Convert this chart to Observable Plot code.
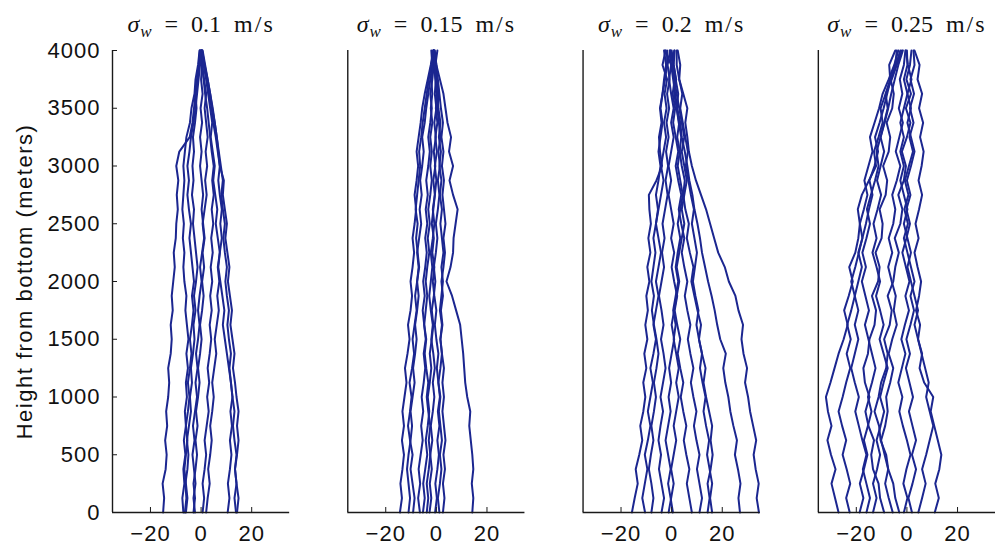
<!DOCTYPE html>
<html><head><meta charset="utf-8">
<script src="https://cdn.jsdelivr.net/npm/d3@7"></script>
<script src="https://cdn.jsdelivr.net/npm/@observablehq/plot@0.6"></script>
<style>
html,body{margin:0;padding:0;background:#fff;}
#chart svg{display:block;}
g[aria-label="x-axis tick label"] text, g[aria-label="y-axis tick label"] text {letter-spacing:1px;}
</style></head><body><div id="chart"></div>
<script>
// sample heights (m), bottom to top
const heights = [0,125,250,375,500,625,750,875,1000,1125,1250,1375,1500,1625,1750,1875,2000,2125,2250,2375,2500,2625,2750,2875,3000,3125,3250,3375,3500,3625,3750,3875,4000];
const sigmas = ["0.1","0.15","0.2","0.25"];
const xTicks = [-20, 0, 20];
const yTicks = [0,500,1000,1500,2000,2500,3000,3500,4000];
const yLabel = "Height from bottom (meters)";

// horizontal displacement (m) of each trajectory at the heights above
const panel1 = [
  [-15,-14.6,-15.2,-14,-13.6,-14.2,-13.4,-13.8,-13,-12.6,-13,-12,-11.6,-12,-11.2,-11.6,-11,-10.4,-10.8,-10,-9.8,-9.2,-9.6,-9,-9.8,-8.6,-4.5,-3.4,-2.8,-2.2,-1.6,-0.8,-0.5],
  [-7,-7.4,-6.6,-7,-6.2,-6.8,-6,-6.4,-5.6,-6,-5.2,-5.8,-5,-5.6,-6.2,-5.8,-6.6,-7,-6.6,-7.2,-6.8,-7.4,-7,-6.6,-7,-6.4,-5.8,-4.4,-3.8,-2.6,-2.2,-1.2,-0.6],
  [-6.4,-5.8,-6.2,-5.4,-5,-5.6,-4.8,-4,-4.4,-3.6,-4,-3.2,-2.6,-3,-2.2,-2.8,-2,-1.4,-2,-2.6,-3.2,-2.8,-3.6,-3,-3.4,-2.8,-3.2,-2.4,-1.8,-2.2,-1.4,-0.8,-0.4],
  [-3,-2.4,-3,-2.2,-1.6,-2.2,-1.4,-2,-1.2,-0.6,-1.2,-0.4,0.2,-0.4,0.4,1,0.4,1.2,0.6,1.4,0.8,0.2,0.8,0.2,-0.4,0.2,-0.4,0.4,-0.2,0.6,0,0.4,0],
  [-2.4,-3,-2.2,-2.8,-3.4,-2.6,-3.2,-2.4,-1.6,-2.2,-1.4,-2,-1.2,-0.6,-1.2,-0.6,0.2,-0.4,0.4,1.2,0.6,1.4,2.2,1.6,2.4,1.8,2.6,2,1.4,2,1.2,0.4,0.2],
  [0.6,1.2,0.6,1.4,2,1.4,2.2,3,2.4,3.2,2.6,3.4,4,3.4,4.2,3.6,4.4,3.8,4.6,4,4.8,4.2,5,4.4,5,4.2,3.6,3,2.4,1.6,1,0.4,0.2],
  [2,2.6,3.4,2.8,3.6,4.2,3.6,4.4,5,4.4,5.2,6,5.4,6.2,7,6.4,7.2,6.6,7.4,8.2,7.6,8.2,7.4,6.8,7.4,6.6,5.8,4.8,4.2,3.2,2.2,1.2,0.4],
  [10.5,11.2,10.6,11.4,12,11.4,12.2,11.6,12.4,11.8,11.2,11.8,11,10.4,11,10.2,9.6,10.2,9.4,8.8,9.4,8.6,8,8.6,7.8,7,6.2,5.4,4.6,3.6,2.6,1.4,0.4],
  [13.8,13.2,14,13.4,14.2,14.8,14.2,14.8,14,13.4,12.6,13.2,12.4,11.6,12.2,11.4,10.6,11.2,10.4,9.6,10.2,9.4,8.6,9,7.4,6.8,6.2,5.4,4.4,3.6,2.6,1.6,0.6],
  [14.2,14.8,14,13.4,14,13.2,12.6,13.2,12.4,11.8,11,10.2,9.4,8.6,9.2,8.4,7.6,6.8,7.4,6.6,5.8,6.4,5.6,4.8,5.4,4.6,3.8,4.4,3.6,2.8,2,1,0.2],
  [-6,-5.4,-6,-6.6,-6,-5.4,-6,-5.2,-4.6,-5.2,-4.4,-3.8,-4.4,-3.6,-3,-3.6,-2.8,-3.4,-4,-4.6,-4,-4.8,-5.4,-4.8,-5.4,-4.6,-4,-3,-2.2,-1.6,-1,-0.4,-0.2]
];
const panel2 = [
  [14.2,14.6,14,14.6,14.2,13.6,13,13.4,12.2,11.4,11,10.6,10,9.4,7.8,6.2,4,5.6,6.6,6.8,7.6,8.4,6.6,5.2,6.6,5,5.8,4.4,3.6,2.8,1.4,0,-1],
  [-14.4,-13.6,-14.2,-13.4,-12.8,-13.6,-12.8,-13.4,-12.6,-11.8,-12.4,-11.4,-10.6,-11.2,-10.2,-9.6,-10.2,-9.4,-8.8,-9.4,-8.6,-8,-8.6,-7.8,-7.2,-7.8,-7,-6.2,-5.6,-4.6,-3.4,-2.2,-1.2],
  [-9.2,-8.6,-9.4,-10.2,-9.4,-10.4,-11.2,-10.4,-9.8,-10.6,-9.6,-8.8,-9.4,-8.6,-7.8,-8.4,-7.6,-7,-7.6,-6.8,-6,-6.6,-5.8,-6.4,-5.6,-5,-5.6,-4.6,-4,-3.2,-2.4,-1.6,-2],
  [-6.5,-7.2,-6.4,-7,-6.2,-5.4,-6,-5.2,-5.8,-5,-4.4,-5,-4.2,-4.8,-5.4,-4.6,-5.2,-4.4,-3.8,-4.4,-3.6,-4.2,-3.4,-4,-3.2,-2.6,-3.2,-2.4,-1.8,-2.4,-1.6,-1,-0.8],
  [-5.3,-4.6,-5.2,-4.4,-3.6,-4.2,-3.4,-2.8,-3.4,-2.6,-2,-2.6,-1.8,-1.2,-1.8,-1,-0.4,-1,-0.2,0.4,-0.2,0.6,1.2,0.6,1.4,0.8,1.6,1,0.4,1,0.2,-0.4,0.4],
  [-2.7,-2,-2.6,-1.8,-2.4,-3,-2.4,-3.2,-3.8,-3.2,-4,-4.6,-4,-4.8,-4.2,-3.6,-4.2,-3.6,-2.8,-3.4,-2.6,-3.2,-2.4,-1.8,-2.4,-1.8,-2.4,-1.6,-2.2,-1.6,-2,-1.4,-1.2],
  [-0.5,0.2,-0.4,0.4,1,0.4,1.2,0.6,1.4,0.8,1.6,2.2,1.6,2.4,1.8,2.6,2,2.8,3.4,2.8,3.6,3,2.4,3,2.2,2.8,2,2.6,1.8,1.2,0.6,0,-0.6],
  [1.2,0.6,1.4,2,1.4,2.2,1.6,1,1.6,0.8,0.2,0.8,0,-0.6,0,-0.8,-1.4,-0.8,-1.6,-1,-1.8,-1.2,-0.6,-1.2,-0.4,-1,-0.2,-0.8,0,-0.6,-0.2,-0.8,-1],
  [2.6,3.2,2.6,3.4,2.8,3.6,3,2.4,3,2.4,3,2.2,1.6,2.2,1.4,2,2.6,2,2.8,2.2,1.6,2.2,1.4,2,1.2,1.8,1,1.6,0.8,0.2,-0.4,-0.8,-1.2],
  [-11,-10.4,-11,-11.6,-11,-10.2,-9.6,-10.2,-9.4,-8.6,-9.2,-8.4,-7.8,-8.4,-7.6,-7,-7.6,-6.8,-7.4,-8,-7.4,-8.2,-7.6,-7,-6.4,-6.8,-6,-5.4,-4.6,-3.8,-3,-2,-1.2],
  [-3.8,-3.2,-3.8,-3,-2.4,-1.6,-2.2,-1.4,-0.8,-1.4,-0.6,-1.2,-2,-1.4,-2.2,-2.8,-2.2,-1.6,-2.2,-1.4,-0.8,-1.4,-0.6,0,-0.6,0.2,-0.4,0.4,-0.2,0.4,-0.2,-0.6,-1]
];
const panel3 = [
  [34.5,33.6,34.4,33.2,32.4,33.4,32.2,31,30.2,29,29.8,28.4,27.6,28.2,26.4,25.2,22.6,21,18.4,16.8,15.2,13.6,11.6,9.6,8,6.8,6.2,5.4,6.2,4.6,3,3.4,2.4],
  [27,26.4,27.2,26.2,25,25.8,24.4,23.2,22.4,21.2,20.4,21.4,19.2,18,17,15.8,14.4,13.2,12,11.2,10.2,9,8.2,7,6.2,5.2,4,3.4,2.2,1.4,0.6,-0.2,-2.6],
  [14.2,15,14.2,15.4,16.2,15.4,16,14.8,13.6,12.6,13.4,12,10.8,11.6,10.2,9,7.8,8.6,7.2,6,6.8,5.4,4.6,5.2,4,3.2,3.8,2.8,2,2.6,1.6,0.8,1.2],
  [16,15.2,16,15,14,14.8,13.6,12.6,13.4,12.2,11.2,12,10.8,9.8,10.6,9.4,8.4,9.2,10,9,8,8.8,7.6,6.6,5.6,6.4,5.4,4.4,3.4,4.2,3,2,2],
  [-15.7,-14.6,-13.4,-14.2,-12.8,-11.6,-12.4,-11.2,-10.4,-11.2,-10,-10.8,-9.6,-10.4,-9.4,-10,-8.8,-9.6,-8.4,-9.2,-8.2,-8.8,-9,-6,-3.8,-4.6,-5,-4,-4.6,-3.6,-3,-2.2,-3],
  [-8,-7.2,-8,-9,-8.2,-7.2,-8,-7,-6.2,-7,-6,-5.2,-6,-7,-7.8,-7,-8,-7.2,-6.4,-7.2,-6.2,-5.4,-6.2,-5.2,-4.4,-5.2,-4.4,-3.6,-4.4,-3.6,-2.6,-1.8,-1.8],
  [-4,-3,-4,-5,-4.2,-5.2,-4.4,-3.4,-4.4,-3.4,-2.4,-3.2,-4.2,-3.2,-4,-5,-4,-3,-3.8,-2.8,-3.6,-2.6,-1.6,-2.4,-1.4,-2.2,-1.2,-2,-1,-1.8,-0.8,-1.6,-0.6],
  [-1.2,-0.2,0.8,-0.2,0.8,1.8,0.8,1.8,2.8,1.8,2.8,1.8,0.8,1.6,0.6,1.6,2.6,1.6,2.4,3.4,2.4,3.4,4.4,3.4,2.4,3.2,2.2,3,2,1,1.8,0.8,0],
  [0.5,-0.4,-1.4,-0.4,-1.4,-2.4,-1.4,-0.4,-1.2,-0.2,-1,0,1,0,1,2,3,2,3,4,5,4,5,6,5,4,5,4,3,2,1,0.4,-0.4],
  [8,7,6,7,5.8,4.8,5.8,4.6,3.6,4.6,3.4,2.4,3.4,2.2,1.2,2.2,1,0,1,-0.2,0.8,-0.2,-1.2,-0.2,-1.2,-0.2,0.8,-0.2,0.8,-0.2,-1,-0.2,-0.8],
  [11,12,11,10,11,9.8,8.8,9.8,8.6,7.6,8.6,7.4,6.4,7.4,6.2,5.2,6.2,5,4,5,3.8,2.8,3.8,2.6,1.6,2.6,1.6,0.6,1.4,0.4,1.2,0.4,1],
  [-10.5,-11.6,-10.6,-9.6,-10.6,-9.4,-8.4,-9.4,-8.4,-7.4,-8.4,-7.2,-6.2,-7.2,-6.2,-5.2,-6.2,-5.2,-4.2,-5.2,-6.2,-5.2,-4.2,-3.2,-4.2,-3.2,-2.2,-3,-2,-2.8,-1.8,-3.6,-2.4]
];
const panel4 = [
  [-27,-28.4,-29.8,-28.2,-30,-31.4,-29.8,-31.2,-32,-30.2,-28.6,-27,-25,-23.4,-24.8,-23,-21.4,-22.8,-20.4,-19.2,-18.6,-19.4,-17.8,-15,-12.2,-13,-11.2,-9.6,-10.4,-8.4,-6.6,-7,-4.6],
  [-22.6,-24,-22.4,-23.8,-25.4,-24,-25.6,-27,-25.4,-24,-22.4,-23.8,-22.2,-23.6,-22,-20.6,-22,-20.4,-19,-17.6,-18.6,-17,-15.6,-16.8,-15.2,-13.6,-14.6,-12.8,-11,-9.6,-7.2,-5,-3.4],
  [-18.7,-17.2,-18.6,-17,-15.6,-17,-15.4,-14,-15.4,-13.8,-12.4,-13.8,-15.2,-16.6,-15,-16.4,-17.8,-16.2,-17.6,-16,-14.6,-15.8,-14.2,-12.6,-11.2,-12,-10.4,-9,-7.6,-8.4,-6,-4,-2],
  [-13.4,-12,-13.4,-11.8,-10.6,-12,-10.4,-9,-10.6,-9.2,-7.6,-9.2,-10.8,-9.2,-10.6,-12.2,-10.6,-12,-13.6,-12,-13.2,-11.6,-10.2,-11.8,-10.4,-9,-10.4,-8.8,-7.4,-6.2,-4.8,-3.4,-1.6],
  [-9,-10.6,-11.2,-13.4,-14.1,-13,-15.2,-16.4,-14.8,-16.6,-17.2,-15.4,-14.8,-12.8,-12.2,-13.8,-11.4,-10.8,-12.4,-10,-9.6,-10.8,-8.4,-7.8,-9.4,-7.2,-6.6,-8,-5.8,-5.2,-6.4,-4.4,-2.6],
  [-5.6,-7.2,-8.6,-7.4,-8.8,-10.2,-8.6,-7.6,-8.2,-6.6,-5.4,-7.2,-5.8,-4,-5.2,-4.4,-6,-7.4,-5.8,-7.2,-5.4,-4.6,-5.8,-4,-2.6,-4.4,-3,-1.6,-3.2,-1.8,-2.8,-1.2,-0.6],
  [-3,-4.6,-5.4,-7.4,-8.2,-10.4,-11,-12.8,-11.2,-10.2,-8.2,-7.6,-9,-6.8,-6,-7.6,-5.4,-4.6,-3.2,-4.8,-2.6,-1.8,-3.4,-1.2,-0.4,-2,0,1.4,-0.4,1.6,-0.2,1.2,1.8],
  [-1.2,0.2,-1.4,-0.2,1.4,0,-1.6,-3,-1.8,-3.4,-2,-0.6,-2.2,-0.8,0.8,-0.6,1,-0.4,-1.8,-0.2,1.2,-0.2,1.4,0,1.6,3,1.6,0.2,1.6,0.2,1.8,0.4,-0.4],
  [2,0.6,2.2,3.6,2,3.6,2.2,0.8,2.4,1,-0.4,1.2,-0.2,1.4,2.8,1.4,3,1.6,0.2,-1.2,0.4,-1,0.6,-0.8,0.8,2.4,1,2.6,1.2,2.8,1.4,3,2.6],
  [11,12.6,11.2,12.8,13.6,12.2,10.8,9.4,10.4,6.8,5,6,4.4,5.2,3.6,4.8,5.6,4.2,3,4.6,3.4,4.8,6,4.6,5.8,6.6,5.2,6.4,4.8,6,4.2,5,3],
  [-16,-14.6,-16,-17.4,-16,-17.6,-19,-20.4,-19,-20.6,-22,-20.6,-19.2,-20.6,-19.2,-20.6,-19.2,-17.8,-19.2,-17.6,-16.2,-15,-13.6,-14.8,-12.8,-11.4,-12.6,-10.8,-9.2,-7.8,-6.4,-4.6,-4],
  [4.5,6,7.4,6,7.6,9,10.4,9,7.6,8.6,7.2,5.8,4.4,3,4.4,3,1.6,0.2,1.6,0.2,-1.2,0.2,-1.2,-2.6,-1.2,-2.6,-1.2,-2.6,-1.2,0.2,-1.2,0.2,0]
];

const panels = [panel1, panel2, panel3, panel4];
const rows = [];
panels.forEach((lines, pi) => lines.forEach((vals, li) => vals.forEach((v, i) =>
  rows.push({s: sigmas[pi], id: pi * 100 + li, x: v, y: heights[i]}))));

const axisColor = "#1a1a1a";
const chart = Plot.plot({
  width: 995, height: 546,
  marginLeft: 112, marginRight: 0, marginTop: 50, marginBottom: 34,
  style: {background: "#fff", fontFamily: "'Liberation Sans', Arial, sans-serif", color: "#111"},
  fx: {domain: sigmas, paddingInner: 0.247, paddingOuter: 0, round: false, axis: null},
  x: {domain: [-35, 35]},
  y: {domain: [0, 4000]},
  marks: [
    Plot.line(rows, {x: "x", y: "y", z: "id", fx: "s", stroke: "#1b2690", strokeWidth: 2, strokeLinejoin: "round"}),
    Plot.ruleX([-35], {stroke: axisColor, strokeWidth: 1.4}),
    Plot.ruleY([0], {stroke: axisColor, strokeWidth: 1.4}),
    Plot.axisX({ticks: xTicks, tickSize: -5, tickPadding: 18, fontSize: 22, label: null, stroke: axisColor, tickFormat: d => d < 0 ? "\u2212" + Math.abs(d) : String(d)}),
    Plot.axisY({ticks: yTicks, tickSize: -5, tickPadding: 17, fontSize: 22, label: null, stroke: axisColor, tickFormat: d => String(d)}),
    Plot.text([yLabel], {fx: () => sigmas[0], text: d => d, frameAnchor: "left", textAnchor: "middle", lineAnchor: "middle", rotate: -90, dx: -88, fontSize: 22, fill: "#111"}),
    Plot.text(sigmas, {fx: d => d, text: d => d, frameAnchor: "top", lineAnchor: "bottom", dy: -19, fontFamily: "'Liberation Serif', serif", fontSize: 24, fill: "#111"})
  ]
});

// typeset the panel titles as σ_w = … m/s
d3.select(chart).selectAll("text").each(function() {
  const v = this.textContent;
  if (v === yLabel) { d3.select(this).attr("letter-spacing", 1.5); return; }
  if (!sigmas.includes(v)) return;
  const t = d3.select(this);
  t.text(null);
  t.append("tspan").attr("font-style", "italic").text("σ");
  t.append("tspan").attr("font-style", "italic").attr("font-size", 17).attr("dx", 1).attr("dy", 5).text("w");
  t.append("tspan").attr("dy", -5).attr("dx", 13).text("=");
  t.append("tspan").attr("dx", 13).text(v);
  t.append("tspan").attr("dx", 13).attr("letter-spacing", 2).text("m/s");
});
document.getElementById("chart").append(chart);
</script></body></html>
